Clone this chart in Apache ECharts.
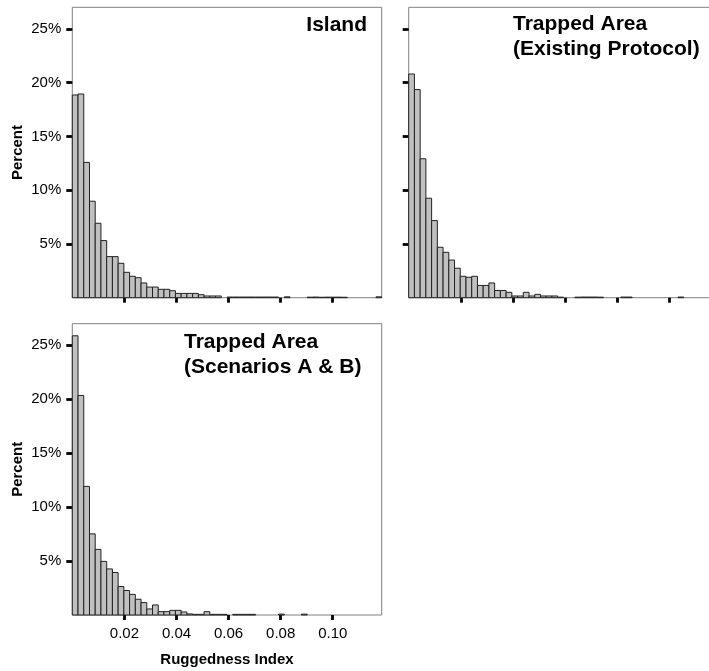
<!DOCTYPE html>
<html>
<head>
<meta charset="utf-8">
<script src="https://cdn.jsdelivr.net/npm/echarts@6/dist/echarts.min.js"></script>
<style>
html,body{margin:0;padding:0;background:#fff;}
#chart{width:709px;height:671px;}
</style>
</head>
<body>
<div id="chart"></div>
<script>
// Histogram bins: bin i covers [i*binWidth, (i+1)*binWidth]
const binWidth = 0.0022;
const xTickValues = [0.02, 0.04, 0.06, 0.08, 0.10];
const xTickLabels = ['0.02', '0.04', '0.06', '0.08', '0.10'];
const yTickValues = [5, 10, 15, 20, 25];
const yTickLabels = ['5%', '10%', '15%', '20%', '25%'];

const panelTitles = [['Island'], ['Trapped Area', '(Existing Protocol)'], ['Trapped Area', '(Scenarios A & B)']];

// Percent per bin
const islandPct = [18.85, 18.94, 12.58, 8.97, 6.92, 5.31, 3.82, 3.82, 3.2, 2.36,
  1.99, 1.86, 1.37, 0.99, 0.99, 0.78, 0.78, 0.65, 0.4, 0.4,
  0.4, 0.4, 0.28, 0.16, 0.16, 0.16, 0, 0.06, 0.06, 0.06,
  0.06, 0.06, 0.06, 0.06, 0.06, 0.06, 0, 0.08, 0, 0,
  0, 0.05, 0.06, 0.04, 0.05, 0.05, 0.05, 0.04, 0, 0,
  0, 0, 0, 0.08];
const existingPct = [20.8, 19.35, 12.92, 9.25, 7.17, 4.69, 4.22, 3.5, 2.74, 1.99,
  1.9, 1.99, 1.14, 1.14, 1.37, 0.67, 0.67, 0.5, 0.16, 0.16,
  0.5, 0.16, 0.31, 0.16, 0.16, 0.16, 0.05, 0, 0, 0.05,
  0.06, 0.06, 0.06, 0.05, 0, 0, 0, 0.06, 0.06, 0,
  0, 0, 0, 0, 0, 0, 0, 0.06, 0, 0,
  0, 0, 0, 0];
const scenarioPct = [25.88, 20.35, 11.92, 7.52, 6.08, 4.97, 4.27, 3.94, 2.64, 2.27,
  1.91, 1.46, 1.15, 0.56, 0.93, 0.31, 0.31, 0.43, 0.43, 0.28,
  0.1, 0.06, 0.06, 0.31, 0.06, 0.06, 0.06, 0, 0.06, 0.06,
  0.06, 0.06, 0, 0, 0, 0, 0.08, 0, 0, 0,
  0.08, 0, 0, 0, 0, 0, 0, 0, 0, 0,
  0, 0, 0, 0];

const allSeries = [islandPct, existingPct, scenarioPct];
const nBins = islandPct.length;
const xMax = nBins * binWidth;

const FONT = '"Liberation Sans", Arial, Helvetica, sans-serif';

const grids = [
  {left: 72.3, top: 7.3, width: 309.4, height: 290.4},
  {left: 408.7, top: 7.3, width: 309.4, height: 290.4},
  {left: 72.3, top: 323.7, width: 309.4, height: 291.3}
];

function toData(arr) {
  const out = [];
  arr.forEach((v, i) => { if (v > 0) out.push([i * binWidth, (i + 1) * binWidth, v]); });
  return out;
}

const option = {
  backgroundColor: '#ffffff',
  animation: false,
  grid: grids.map(g => Object.assign({show: true, borderColor: '#808080', borderWidth: 1, backgroundColor: 'transparent', outerBoundsMode: 'none', containLabel: false}, g)),
  xAxis: grids.map((g, i) => ({
    type: 'value', gridIndex: i, min: 0, max: xMax,
    axisLine: {show: false},
    splitLine: {show: false},
    axisTick: {show: true, customValues: xTickValues, length: 5, lineStyle: {color: '#000', width: 2.8}},
    axisLabel: {show: i === 2, customValues: xTickValues, margin: 11,
      formatter: v => { const k = xTickValues.findIndex(t => Math.abs(t - v) < 1e-9); return k >= 0 ? xTickLabels[k] : ''; },
      fontFamily: FONT, fontSize: 15, color: '#000'},
    name: i === 2 ? 'Ruggedness Index' : '',
    nameLocation: 'middle', nameGap: 37,
    nameTextStyle: {fontFamily: FONT, fontSize: 15, fontWeight: 'bold', color: '#000'}
  })),
  yAxis: grids.map((g, i) => ({
    type: 'value', gridIndex: i, min: 0, max: 27,
    axisLine: {show: false},
    splitLine: {show: false},
    axisTick: {show: true, customValues: yTickValues, length: 6, lineStyle: {color: '#000', width: 2.8}},
    axisLabel: {show: i !== 1, customValues: yTickValues, margin: 11,
      formatter: v => { const k = yTickValues.indexOf(v); return k >= 0 ? yTickLabels[k] : ''; },
      fontFamily: FONT, fontSize: 15, color: '#000'},
    name: i !== 1 ? 'Percent' : '',
    nameLocation: 'middle', nameGap: 47,
    nameTextStyle: {fontFamily: FONT, fontSize: 15, fontWeight: 'bold', color: '#000'}
  })),
  series: allSeries.map((arr, i) => ({
    type: 'custom', xAxisIndex: i, yAxisIndex: i,
    encode: {x: [0, 1], y: 2},
    data: toData(arr),
    renderItem: (params, api) => {
      const p0 = api.coord([api.value(0), 0]);
      const p1 = api.coord([api.value(1), api.value(2)]);
      return {
        type: 'rect',
        shape: {x: p0[0], y: p1[1], width: p1[0] - p0[0], height: p0[1] - p1[1]},
        style: {fill: '#c0c0c0', stroke: '#222', lineWidth: 1}
      };
    }
  })),
  graphic: [
    {type: 'text', x: 367, y: 25, style: {text: panelTitles[0][0], align: 'right', verticalAlign: 'middle', font: 'bold 21px ' + FONT, fill: '#000'}},
    {type: 'text', x: 513, y: 24.5, style: {text: panelTitles[1][0], align: 'left', verticalAlign: 'middle', font: 'bold 21px ' + FONT, fill: '#000'}},
    {type: 'text', x: 513, y: 49.5, style: {text: panelTitles[1][1], align: 'left', verticalAlign: 'middle', font: 'bold 21px ' + FONT, fill: '#000'}},
    {type: 'text', x: 184, y: 342, style: {text: panelTitles[2][0], align: 'left', verticalAlign: 'middle', font: 'bold 21px ' + FONT, fill: '#000'}},
    {type: 'text', x: 184, y: 367, style: {text: panelTitles[2][1], align: 'left', verticalAlign: 'middle', font: 'bold 21px ' + FONT, fill: '#000'}}
  ]
};

const chart = echarts.init(document.getElementById('chart'), null, {renderer: 'canvas'});
chart.setOption(option);
</script>
</body>
</html>
